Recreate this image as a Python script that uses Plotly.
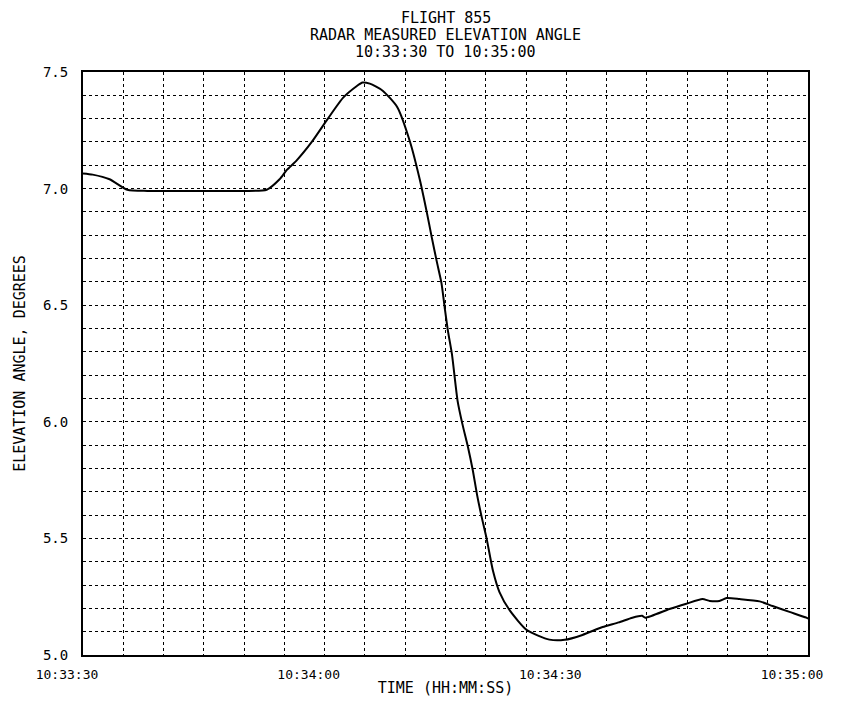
import plotly.graph_objects as go

# seconds after 10:33:30
seconds = [0, 1.2, 3.3, 5.5, 8, 12, 16, 20, 22.8, 24.4, 25.3, 26.5, 28.4, 30.4,
           32.3, 34.0, 34.7, 35.6, 37.2, 39.0, 40.6, 41.8, 42.7, 43.3, 43.9,
           44.5, 44.9, 45.3, 45.8, 46.5, 47.1, 47.8, 48.4, 48.9, 49.5, 50.1,
           50.9, 51.7, 53.0, 55.1, 57.9, 59.8, 62.0, 64.5, 66.5, 68.2, 69.4,
           69.8, 72.8, 74.9, 76.9, 77.8, 79.0, 79.9, 81.5, 84.0, 85.6, 87.7,
           89.8, 90]
elevation = [7.065, 7.06, 7.04, 6.995, 6.99, 6.99, 6.99, 6.99, 6.995, 7.04,
             7.08, 7.12, 7.2, 7.30, 7.39, 7.44, 7.455, 7.45, 7.42, 7.35, 7.2,
             7.04, 6.895, 6.79, 6.69, 6.595, 6.49, 6.39, 6.29, 6.09, 5.99,
             5.89, 5.79, 5.69, 5.59, 5.50, 5.36, 5.27, 5.19, 5.107, 5.066,
             5.065, 5.086, 5.12, 5.14, 5.16, 5.168, 5.16, 5.197, 5.22, 5.24,
             5.232, 5.232, 5.244, 5.24, 5.23, 5.21, 5.185, 5.16, 5.155]

x_tick_vals = [0, 30, 60, 90]
x_tick_text = ["10:33:30", "10:34:00", "10:34:30", "10:35:00"]
y_tick_vals = [5.0, 5.5, 6.0, 6.5, 7.0, 7.5]
y_tick_text = ["5.0", "5.5", "6.0", "6.5", "7.0", "7.5"]
title_lines = ["FLIGHT 855", "RADAR MEASURED ELEVATION ANGLE",
               "10:33:30 TO 10:35:00"]

FONT = "DejaVu Sans Mono"

fig = go.Figure(
    go.Scatter(
        x=seconds,
        y=elevation,
        mode="lines",
        line=dict(color="black", width=2, shape="spline", smoothing=0.6),
        hoverinfo="skip",
    )
)

grid = dict(gridcolor="black", griddash="dot", gridwidth=1)

fig.update_xaxes(
    range=[0, 90],
    tickvals=x_tick_vals,
    ticktext=x_tick_text,
    ticks="",
    ticklabelshift=-16,
    ticklabelstandoff=6,
    tickfont=dict(size=13),
    showline=True,
    mirror=True,
    linecolor="black",
    linewidth=2,
    showgrid=True,
    minor=dict(dtick=5, showgrid=True, **grid),
    zeroline=False,
    title=dict(text="TIME (HH:MM:SS)", standoff=2, font=dict(size=15)),
    automargin=False,
    **grid,
)
fig.update_yaxes(
    range=[5.0, 7.5],
    tickvals=y_tick_vals,
    ticktext=y_tick_text,
    ticks="",
    ticklabelstandoff=10,
    showline=True,
    mirror=True,
    linecolor="black",
    linewidth=2,
    showgrid=True,
    minor=dict(dtick=0.1, showgrid=True, **grid),
    zeroline=False,
    title=dict(text="ELEVATION ANGLE, DEGREES", standoff=14,
               font=dict(size=15)),
    automargin=False,
    **grid,
)

for i, line in enumerate(title_lines):
    fig.add_annotation(
        text=line, xref="paper", yref="paper", x=0.5, y=1,
        xanchor="center", yanchor="middle", yshift=54 - 17 * i,
        showarrow=False, font=dict(size=15, family=FONT, color="black"),
    )

fig.update_layout(
    width=849,
    height=698,
    margin=dict(l=75, r=49, t=64, b=51),
    paper_bgcolor="white",
    plot_bgcolor="white",
    showlegend=False,
    font=dict(family=FONT, size=14, color="black"),
)

fig.write_html("out.html")
